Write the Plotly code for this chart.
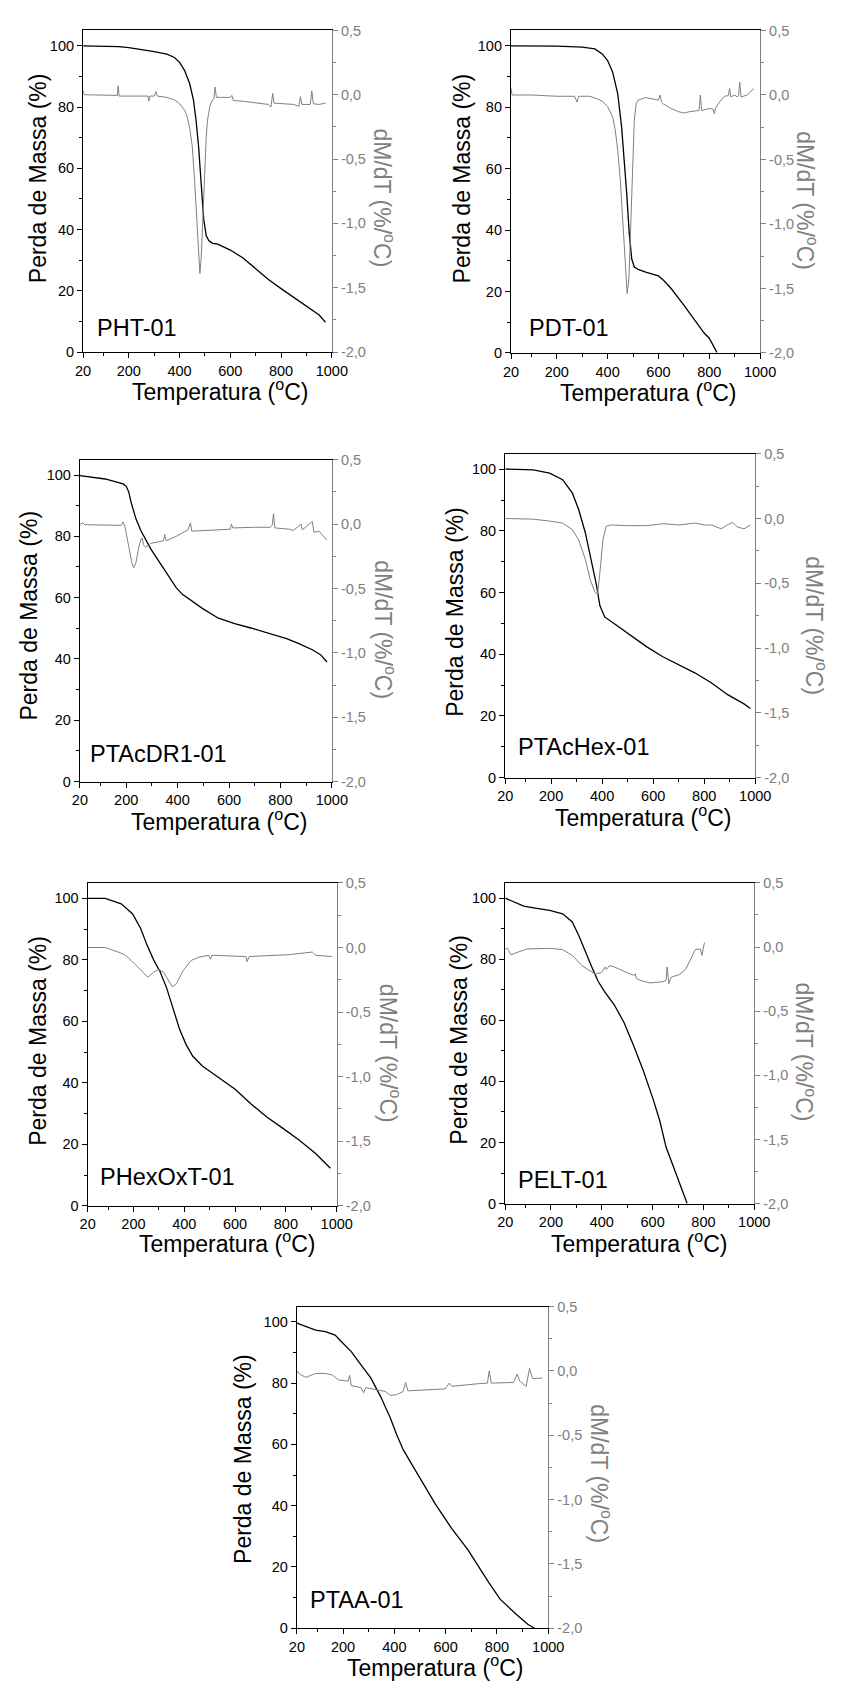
import plotly.graph_objects as go

# ---------------- data ----------------
# PHT-01
pht_T_tg = [20, 100, 160, 200, 250, 300, 350, 380, 400, 420, 440, 455, 465, 475, 485, 495, 505, 515, 530, 550, 600, 650, 700, 750, 800, 850, 900, 950, 975]
pht_tg = [100, 99.9, 99.7, 99.4, 98.8, 98.1, 97.3, 96.2, 94.6, 91.9, 87.6, 82.2, 75.7, 67.1, 55.2, 43.4, 38.0, 36.4, 35.5, 35.2, 33.3, 30.7, 27.2, 23.7, 20.7, 17.8, 15.0, 12.1, 9.7]
pht_T_dtg = [20, 25, 40, 150, 155, 158, 162, 200, 275, 279, 283, 300, 307, 312, 350, 380, 400, 420, 430, 440, 450, 460, 470, 475, 480, 485, 490, 495, 500, 505, 510, 520, 530, 535, 540, 545, 560, 600, 606, 612, 650, 700, 750, 760, 767, 772, 800, 850, 870, 876, 882, 915, 921, 927, 950, 975]
pht_dtg = [0.03, 0.0, 0.0, -0.005, -0.005, 0.07, -0.01, -0.01, -0.01, -0.05, -0.01, -0.01, 0.025, -0.01, -0.02, -0.04, -0.07, -0.12, -0.17, -0.26, -0.40, -0.69, -1.07, -1.28, -1.39, -1.28, -1.05, -0.76, -0.51, -0.33, -0.20, -0.08, -0.04, -0.03, 0.06, -0.02, -0.02, -0.02, -0.005, -0.045, -0.05, -0.065, -0.075, -0.095, 0.01, -0.065, -0.07, -0.075, -0.09, -0.015, -0.075, -0.075, 0.03, -0.07, -0.075, -0.065]

# PDT-01
pdt_T_tg = [20, 100, 200, 300, 350, 380, 400, 420, 440, 455, 465, 475, 485, 495, 505, 520, 550, 600, 620, 650, 700, 750, 780, 800, 830]
pdt_tg = [100, 100, 99.9, 99.6, 99.0, 97.3, 95.2, 91.4, 84.4, 73.7, 64.0, 52.2, 39.2, 30.6, 28.0, 27.2, 26.3, 25.1, 23.7, 21.0, 15.6, 9.7, 6.5, 4.8, 0.2]
pdt_T_dtg = [20, 24, 30, 100, 200, 270, 280, 286, 300, 330, 360, 380, 400, 420, 430, 440, 450, 460, 470, 477, 484, 490, 495, 500, 505, 512, 520, 550, 600, 607, 612, 620, 650, 680, 700, 720, 760, 765, 770, 800, 815, 820, 825, 840, 860, 875, 880, 885, 900, 910, 915, 920, 925, 950, 975]
pdt_dtg = [0.05, 0.0, 0.0, 0.0, -0.01, -0.01, -0.055, -0.01, -0.01, -0.01, -0.03, -0.05, -0.09, -0.17, -0.27, -0.43, -0.66, -0.96, -1.32, -1.54, -1.42, -1.07, -0.71, -0.40, -0.20, -0.07, -0.04, -0.02, -0.04, 0.0, -0.055, -0.07, -0.105, -0.13, -0.14, -0.13, -0.12, 0.0, -0.12, -0.105, -0.11, -0.145, -0.10, -0.055, -0.01, -0.005, 0.05, -0.015, 0.0, -0.015, -0.005, 0.10, -0.015, 0.0, 0.05]

# PTAcDR1-01
ptacdr_T_tg = [20, 118, 188, 200, 210, 219, 238, 257, 295, 345, 395, 420, 446, 496, 559, 622, 685, 767, 824, 874, 924, 956, 981]
ptacdr_tg = [99.8, 98.7, 97.1, 96.3, 94.5, 91.1, 85.7, 81.9, 76.0, 69.5, 63.2, 61.0, 59.5, 56.5, 53.3, 51.5, 50.1, 47.9, 46.6, 44.9, 43.0, 41.4, 39.0]
ptacdr_T_dtg = [20, 30, 40, 100, 181, 188, 195, 200, 213, 222, 229, 238, 250, 259, 263, 267, 276, 295, 345, 350, 355, 395, 440, 450, 455, 559, 605, 609, 615, 700, 760, 768, 773, 778, 836, 850, 880, 885, 924, 930, 950, 981]
ptacdr_dtg = [-0.005, 0.01, -0.005, -0.005, -0.01, 0.015, -0.02, -0.07, -0.22, -0.30, -0.34, -0.30, -0.17, -0.11, -0.11, -0.16, -0.18, -0.15, -0.13, -0.08, -0.13, -0.095, -0.045, 0.01, -0.055, -0.045, -0.04, 0.0, -0.03, -0.025, -0.025, -0.01, 0.08, -0.03, -0.04, -0.05, 0.0, -0.045, 0.02, -0.065, -0.055, -0.125]

# PTAcHex-01
ptachex_T_tg = [20, 130, 194, 245, 283, 308, 334, 359, 378, 391, 410, 448, 511, 575, 638, 702, 765, 829, 892, 956, 981]
ptachex_tg = [100, 99.8, 98.7, 96.6, 92.3, 86.9, 79.4, 69.8, 62.3, 55.8, 52.1, 49.9, 46.2, 42.4, 39.2, 36.5, 33.9, 30.7, 26.9, 23.9, 22.4]
ptachex_T_dtg = [20, 130, 194, 245, 283, 308, 334, 353, 372, 382, 391, 403, 416, 435, 500, 575, 640, 702, 765, 800, 830, 867, 890, 911, 930, 956, 981]
ptachex_dtg = [0.0, -0.005, -0.02, -0.035, -0.085, -0.165, -0.315, -0.47, -0.57, -0.585, -0.42, -0.165, -0.06, -0.05, -0.055, -0.055, -0.04, -0.05, -0.035, -0.05, -0.05, -0.08, -0.05, -0.03, -0.065, -0.08, -0.05]

# PHexOxT-01
phexoxt_T_tg = [20, 89, 152, 197, 229, 254, 280, 305, 331, 356, 382, 407, 433, 471, 535, 599, 662, 726, 790, 853, 917, 975]
phexoxt_tg = [100, 100, 98.2, 94.9, 90.1, 84.7, 79.9, 76.1, 70.8, 64.3, 57.3, 52.5, 48.7, 45.5, 41.7, 38.0, 33.2, 28.8, 25.1, 21.3, 17.0, 12.2]
phexoxt_T_dtg = [20, 89, 140, 165, 191, 223, 257, 280, 299, 318, 337, 353, 369, 395, 427, 458, 497, 503, 509, 643, 647, 656, 815, 904, 917, 981]
phexoxt_dtg = [0.0, 0.0, -0.035, -0.055, -0.10, -0.165, -0.23, -0.19, -0.17, -0.19, -0.255, -0.305, -0.28, -0.18, -0.10, -0.075, -0.06, -0.09, -0.06, -0.07, -0.11, -0.07, -0.055, -0.035, -0.06, -0.07]

# PELT-01
pelt_T_tg = [20, 54, 93, 144, 195, 246, 284, 309, 335, 360, 386, 411, 449, 488, 526, 564, 602, 628, 653, 679, 711, 736]
pelt_tg = [100, 98.7, 97.4, 96.7, 96.0, 94.9, 92.2, 87.9, 82.4, 77.6, 72.7, 69.4, 65.1, 59.2, 51.6, 43.4, 34.2, 27.2, 18.5, 12.6, 5.0, 0.0]
pelt_T_dtg = [20, 29, 42, 67, 105, 195, 246, 284, 322, 373, 398, 414, 418, 430, 449, 500, 526, 532, 536, 551, 590, 641, 653, 657, 664, 673, 705, 730, 756, 768, 788, 794, 804]
pelt_dtg = [-0.015, -0.01, -0.06, -0.04, -0.015, -0.01, -0.02, -0.065, -0.145, -0.21, -0.20, -0.155, -0.175, -0.145, -0.155, -0.20, -0.22, -0.21, -0.245, -0.26, -0.28, -0.27, -0.26, -0.155, -0.285, -0.235, -0.215, -0.175, -0.065, -0.02, -0.015, -0.065, 0.035]

# PTAA-01
ptaa_T_tg = [20, 55, 93, 131, 169, 194, 232, 270, 308, 346, 384, 410, 435, 459, 510, 560, 624, 687, 769, 813, 876, 920, 946]
ptaa_tg = [99.6, 98.4, 97.3, 96.8, 95.7, 93.5, 90.3, 86.0, 81.7, 75.7, 68.7, 63.0, 58.2, 54.8, 47.7, 40.5, 32.5, 25.6, 14.8, 9.4, 4.5, 1.3, 0.0]
ptaa_T_dtg = [20, 30, 55, 93, 131, 156, 182, 207, 220, 226, 232, 270, 280, 289, 333, 365, 384, 409, 434, 444, 453, 535, 598, 614, 624, 725, 763, 770, 778, 864, 879, 889, 914, 927, 939, 977]
ptaa_dtg = [0.0, -0.025, -0.05, -0.02, -0.02, -0.03, -0.07, -0.08, -0.08, -0.035, -0.115, -0.13, -0.17, -0.13, -0.145, -0.16, -0.19, -0.185, -0.16, -0.09, -0.155, -0.145, -0.14, -0.095, -0.12, -0.10, -0.095, 0.0, -0.095, -0.09, -0.025, -0.08, -0.12, 0.02, -0.06, -0.055]

sample_names = ["PHT-01", "PDT-01", "PTAcDR1-01", "PTAcHex-01", "PHexOxT-01", "PELT-01", "PTAA-01"]

x_ticks = [20, 200, 400, 600, 800, 1000]
x_minor = [100, 300, 500, 700, 900]
left_ticks = [0, 20, 40, 60, 80, 100]
left_minor = [10, 30, 50, 70, 90]
right_ticks = [0.5, 0.0, -0.5, -1.0, -1.5, -2.0]
right_ticktext = ["0,5", "0,0", "-0,5", "-1,0", "-1,5", "-2,0"]
right_minor = [0.25, -0.25, -0.75, -1.25, -1.75]

# ---------------- layout geometry (pixels) ----------------
W, H = 847, 1688
boxes = [  # left, right, top, bottom
    (77.3, 333.3, 22.7, 347.3),
    (517.7, 774.0, 22.7, 348.3),
    (74.0, 333.3, 456.0, 781.0),
    (511.7, 769.0, 450.0, 777.0),
    (82.0, 338.3, 883.3, 1209.3),
    (511.7, 768.0, 883.3, 1207.0),
    (297.3, 556.0, 1311.0, 1635.7),
]
label_pos = [(90, 333), (534, 333), (82.7, 763.3), (523.3, 756.7), (92.7, 1190.7), (523.3, 1193.3), (308.3, 1617.7)]
ytitle_pos = [(31.7, 172), (467.3, 172), (21.7, 613.3), (460.7, 610), (30, 1042.5), (464, 1041.7), (241.7, 1465)]
xtitle_pos = [(217.8, 386), (658.7, 387), (217.2, 820), (653.2, 816), (225, 1246), (649.8, 1246), (439.2, 1674)]
rtitle_pos = [(386.7, 192), (822.3, 195), (388.3, 627.5), (830.7, 623.3), (393.3, 1055), (820.7, 1054), (610, 1480)]

series = [
    (pht_T_tg, pht_tg, pht_T_dtg, pht_dtg),
    (pdt_T_tg, pdt_tg, pdt_T_dtg, pdt_dtg),
    (ptacdr_T_tg, ptacdr_tg, ptacdr_T_dtg, ptacdr_dtg),
    (ptachex_T_tg, ptachex_tg, ptachex_T_dtg, ptachex_dtg),
    (phexoxt_T_tg, phexoxt_tg, phexoxt_T_dtg, phexoxt_dtg),
    (pelt_T_tg, pelt_tg, pelt_T_dtg, pelt_dtg),
    (ptaa_T_tg, ptaa_tg, ptaa_T_dtg, ptaa_dtg),
]

FONT = "Liberation Sans, Arial, sans-serif"
BLACK = "#000000"
GRAY = "#808080"
TICK_FS = 14.5
TITLE_FS = 23
LABEL_FS = 23.5


def px(x):
    return x / W


def py(y):
    return 1 - y / H


fig = go.Figure()
layout = dict(
    width=W, height=H, margin=dict(l=0, r=0, t=0, b=0),
    paper_bgcolor="white", plot_bgcolor="white", showlegend=False,
    font=dict(family=FONT, size=TICK_FS, color=BLACK),
)
annotations = []

for i, (tT, tg, dT, dtg) in enumerate(series):
    n = i + 1
    xa = "x" if n == 1 else f"x{n}"
    ya_l_idx = 2 * n - 1
    ya_r_idx = 2 * n
    ya_l = "y" if ya_l_idx == 1 else f"y{ya_l_idx}"
    ya_r = f"y{ya_r_idx}"
    l, r, t, b = boxes[i]

    fig.add_trace(go.Scatter(x=tT, y=tg, mode="lines", xaxis=xa, yaxis=ya_l,
                             line=dict(color=BLACK, width=1.3), hoverinfo="skip"))
    fig.add_trace(go.Scatter(x=dT, y=dtg, mode="lines", xaxis=xa, yaxis=ya_r,
                             line=dict(color=GRAY, width=1.0), hoverinfo="skip"))

    xkey = "xaxis" if n == 1 else f"xaxis{n}"
    ylkey = "yaxis" if ya_l_idx == 1 else f"yaxis{ya_l_idx}"
    yrkey = f"yaxis{ya_r_idx}"

    layout[xkey] = dict(
        domain=[px(l), px(r)], anchor=ya_l, range=[20, 1000],
        tickvals=x_ticks, ticktext=[str(v) for v in x_ticks],
        ticks="outside", ticklen=5, tickwidth=1, tickcolor=BLACK,
        minor=dict(tickvals=x_minor, ticks="outside", ticklen=3, tickcolor=BLACK, tickwidth=1),
        showline=True, linecolor=BLACK, linewidth=1.3, mirror=True,
        showgrid=False, zeroline=False,
        tickfont=dict(family=FONT, size=TICK_FS, color=BLACK),
    )
    layout[ylkey] = dict(
        domain=[py(b), py(t)], anchor=xa, range=[0, 105],
        tickvals=left_ticks, ticktext=[str(v) for v in left_ticks],
        ticks="outside", ticklen=5, tickwidth=1, tickcolor=BLACK,
        minor=dict(tickvals=left_minor, ticks="outside", ticklen=3, tickcolor=BLACK, tickwidth=1),
        showline=True, linecolor=BLACK, linewidth=1.3,
        showgrid=False, zeroline=False,
        tickfont=dict(family=FONT, size=TICK_FS, color=BLACK),
    )
    layout[yrkey] = dict(
        overlaying=ya_l, side="right", anchor=xa, range=[-2.0, 0.5],
        tickvals=right_ticks, ticktext=right_ticktext,
        ticks="outside", ticklen=5, tickwidth=1, tickcolor=GRAY,
        minor=dict(tickvals=right_minor, ticks="outside", ticklen=3, tickcolor=GRAY, tickwidth=1),
        showline=True, linecolor=GRAY, linewidth=1.3,
        showgrid=False, zeroline=False,
        tickfont=dict(family=FONT, size=TICK_FS, color=GRAY),
    )

    lx, lyb = label_pos[i]
    annotations.append(dict(text=sample_names[i], x=px(lx), y=py(lyb + 5), xref="paper", yref="paper",
                            xanchor="left", yanchor="bottom", showarrow=False,
                            font=dict(family=FONT, size=LABEL_FS, color=BLACK)))
    yx, yy = ytitle_pos[i]
    annotations.append(dict(text="Perda de Massa (%)", x=px(yx), y=py(yy), xref="paper", yref="paper",
                            xanchor="center", yanchor="middle", textangle=-90, showarrow=False,
                            font=dict(family=FONT, size=TITLE_FS, color=BLACK)))
    xx, xy = xtitle_pos[i]
    annotations.append(dict(text="Temperatura (<sup>o</sup>C)", x=px(xx), y=py(xy), xref="paper", yref="paper",
                            xanchor="center", yanchor="middle", showarrow=False,
                            font=dict(family=FONT, size=TITLE_FS, color=BLACK)))
    rx, ry = rtitle_pos[i]
    annotations.append(dict(text="dM/dT (%/<sup>o</sup>C)", x=px(rx), y=py(ry), xref="paper", yref="paper",
                            xanchor="center", yanchor="middle", textangle=90, showarrow=False,
                            font=dict(family=FONT, size=TITLE_FS, color=GRAY)))

layout["annotations"] = annotations
fig.update_layout(**layout)
fig.write_html("out.html")
